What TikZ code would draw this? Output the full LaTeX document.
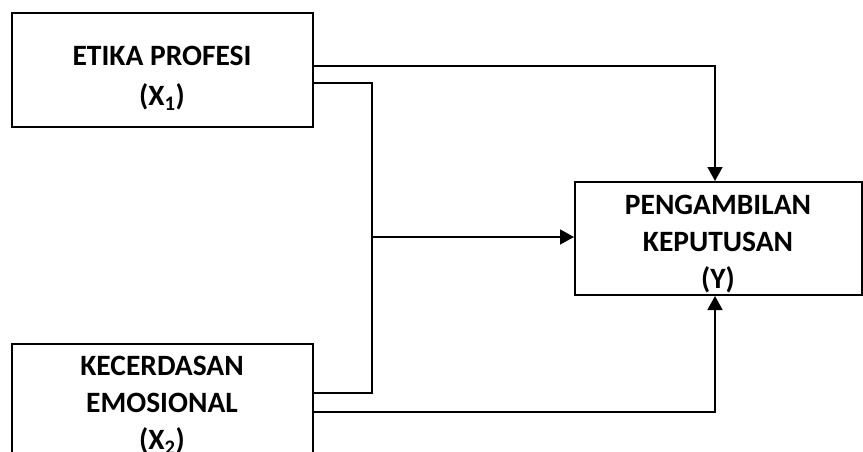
\documentclass[tikz,border=0pt]{standalone}
\usepackage{fontspec}
\setmainfont{Carlito}
\usetikzlibrary{arrows.meta}
\tikzset{
  boxnode/.style={draw=black, line width=2pt, rectangle, inner sep=0pt},
  labeltext/.style={align=center, inner sep=0pt, anchor=north, font=\fontsize{29.5}{37}\selectfont\bfseries},
  conn/.style={draw=black, line width=1.6pt},
  arr/.style={conn, -{Triangle[width=15pt,length=14pt]}}
}
\begin{document}
\begin{tikzpicture}[x=1pt,y=-1pt]
\clip (0,0) rectangle (863,452);
\fill[white] (0,0) rectangle (863,452);
\node[boxnode, minimum width=301pt, minimum height=114pt] (b1) at (162.5,70) {};
\node[boxnode, minimum width=301pt, minimum height=114pt] (b2) at (162.5,401) {};
\node[boxnode, minimum width=287pt, minimum height=113pt] (y) at (718.5,238.5) {};
\node[labeltext] (t1) at (162,46) {ETIKA PROFESI\\[3pt](X\textsubscript{1})};
\node[labeltext] (t2) at (162,356) {KECERDASAN\\EMOSIONAL\\(X\textsubscript{2})};
\node[labeltext] (ty) at (718,195) {PENGAMBILAN\\KEPUTUSAN\\(Y)};
\coordinate (jb) at (372,393);
\coordinate (jm) at (372,237);
\draw[arr] ([yshift=4pt]b1.east) -| ([xshift=-3.5pt]y.north);
\draw[conn] ([yshift=-13pt]b1.east) -| (jb) -- ([yshift=8pt]b2.east);
\draw[arr] (jm) -- (y.west |- jm);
\draw[arr] ([yshift=-11pt]b2.east) -| ([xshift=-3.5pt]y.south);
\end{tikzpicture}
\end{document}
